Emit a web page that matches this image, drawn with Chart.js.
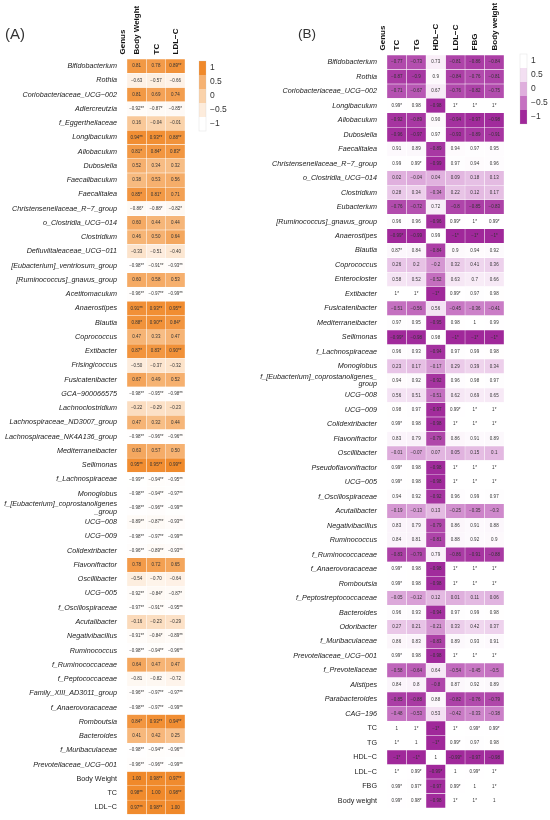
<!DOCTYPE html>
<html><head><meta charset="utf-8">
<script src="https://cdn.jsdelivr.net/npm/chart.js@4.4.0/dist/chart.umd.min.js"></script>
<style>
html,body{margin:0;padding:0;background:#fff;width:550px;height:820px;overflow:hidden;}
#wrapA{position:absolute;left:0;top:0;width:255px;height:820px;}
#wrapB{position:absolute;left:255px;top:0;width:295px;height:820px;}
.plabel{position:absolute;font-family:"Liberation Sans",Arial,sans-serif;color:#333;line-height:1;}
</style></head><body>
<div id="wrapA"><canvas id="cA" width="255" height="820" style="width:255px;height:820px"></canvas></div>
<div id="wrapB"><canvas id="cB" width="295" height="820" style="width:295px;height:820px"></canvas></div>
<div class="plabel" style="left:5px;top:26px;font-size:15px;">(A)</div>
<div class="plabel" style="left:298px;top:27px;font-size:13.5px;">(B)</div>
<script>
const FONT = '"Liberation Sans", Arial, Helvetica, sans-serif';

// ---------- Panel A data ----------
const rowsA = ['Bifidobacterium','Rothia','Coriobacteriaceae_UCG−002','Adlercreutzia','f_Eggerthellaceae','Longibaculum','Allobaculum','Dubosiella','Faecalibaculum','Faecalitalea','Christensenellaceae_R−7_group','o_Clostridia_UCG−014','Clostridium','Defluviitaleaceae_UCG−011','[Eubacterium]_ventriosum_group','[Ruminococcus]_gnavus_group','Acetitomaculum','Anaerostipes','Blautia','Coprococcus','Extibacter','Frisingicoccus','Fusicatenibacter','GCA−900066575','Lachnoclostridium','Lachnospiraceae_ND3007_group','Lachnospiraceae_NK4A136_group','Mediterraneibacter','Sellimonas','f_Lachnospiraceae','Monoglobus',['f_[Eubacterium]_coprostanoligenes','_group'],'UCG−008','UCG−009','Colidextribacter','Flavonifractor','Oscillibacter','UCG−005','f_Oscillospiraceae','Acutalibacter','Negativibacillus','Ruminococcus','f_Ruminococcaceae','f_Peptococcaceae','Family_XIII_AD3011_group','f_Anaerovoracaceae','Romboutsia','Bacteroides','f_Muribaculaceae','Prevotellaceae_UCG−001','Body Weight','TC','LDL−C'];
const colsA = ['Body Weight','TC','LDL−C'];
const clinicalA = ['Body Weight','TC','LDL−C'];
const bodyWeightA = ['0.81','−0.63','0.81','−0.92**','0.16','0.94**','0.81*','0.52','0.38','0.85*','−0.86*','0.60','0.46','−0.33','−0.98**','0.60','−0.96**','0.91**','0.88*','0.47','0.87*','−0.50','0.67','−0.98**','−0.22','0.47','−0.98**','0.63','0.95**','−0.99**','−0.98**','−0.98**','−0.89**','−0.98**','−0.96**','0.78','−0.54','−0.92**','−0.97**','−0.16','−0.91**','−0.98**','0.64','−0.81','−0.96**','−0.98**','0.84*','0.41','−0.98**','−0.96**','1.00','0.98**','0.97**'];
const tcA = ['0.78','−0.57','0.69','−0.87*','−0.04','0.93**','0.84*','0.34','0.53','0.81*','−0.88*','0.44','0.50','−0.51','−0.91**','0.58','−0.97**','0.93**','0.90**','0.33','0.83*','−0.37','0.49','−0.95**','−0.29','0.32','−0.96**','0.57','0.95**','−0.94**','−0.94**','−0.96**','−0.87**','−0.97**','−0.89**','0.72','−0.70','−0.84*','−0.91**','−0.23','−0.84*','−0.94**','0.47','−0.82','−0.97**','−0.97**','0.93**','0.42','−0.94**','−0.96**','0.98**','1.00','0.98**'];
const ldlA = ['0.89**','−0.66','0.74','−0.85*','−0.01','0.88**','0.83*','0.32','0.56','0.71','−0.82*','0.44','0.64','−0.40','−0.93**','0.53','−0.99**','0.95**','0.84*','0.47','0.90**','−0.32','0.52','−0.98**','−0.23','0.44','−0.96**','0.50','0.99**','−0.95**','−0.97**','−0.99**','−0.93**','−0.99**','−0.93**','0.65','−0.64','−0.87*','−0.95**','−0.29','−0.89**','−0.96**','0.47','−0.72','−0.97**','−0.99**','0.94**','0.25','−0.96**','−0.99**','0.97**','0.98**','1.00'];

// ---------- Panel B data ----------
const rowsB = ['Bifidobacterium','Rothia','Coriobacteriaceae_UCG−002','Longibaculum','Allobaculum','Dubosiella','Faecalitalea','Christensenellaceae_R−7_group','o_Clostridia_UCG−014','Clostridium','Eubacterium','[Ruminococcus]_gnavus_group','Anaerostipes','Blautia','Coprococcus','Enterocloster','Extibacter','Fusicatenibacter','Mediterraneibacter','Sellimonas','f_Lachnospiraceae','Monoglobus',['f_[Eubacterium]_coprostanoligenes_','group'],'UCG−008','UCG−009','Colidextribacter','Flavonifractor','Oscillibacter','Pseudoflavonifractor','UCG−005','f_Oscillospiraceae','Acutalibacter','Negativibacillus','Ruminococcus','f_Ruminococcaceae','f_Anaerovoracaceae','Romboutsia','f_Peptostreptococcaceae','Bacteroides','Odoribacter','f_Muribaculaceae','Prevotellaceae_UCG−001','f_Prevotellaceae','Alistipes','Parabacteroides','CAG−196','TC','TG','HDL−C','LDL−C','FBG','Body weight'];
const colsB = ['TC','TG','HDL−C','LDL−C','FBG','Body weight'];
const clinicalB = ['TC','TG','HDL−C','LDL−C','FBG','Body weight'];
const tcB = ['−0.77','−0.87','−0.71','0.99*','−0.92','−0.96','0.91','0.99','0.02','0.28','−0.76','0.96','−0.99*','0.87*','0.26','0.58','1*','−0.51','0.97','−0.99*','0.96','0.23','0.94','0.56','0.98','0.99*','0.83','−0.01','0.99*','0.99*','0.94','−0.19','0.83','0.84','−0.83','0.99*','0.99*','−0.05','0.96','0.27','0.86','0.99*','−0.58','0.84','−0.85','−0.48','1','1*','−1*','1*','0.99*','0.99*'];
const tgB = ['−0.73','−0.9','−0.67','0.98','−0.89','−0.97','0.89','0.99*','−0.04','0.34','−0.72','0.96','−0.99','0.84','0.2','0.52','1*','−0.56','0.95','−0.98','0.93','0.17','0.92','0.51','0.97','0.98','0.79','−0.07','0.98','0.98','0.92','−0.13','0.79','0.81','−0.79','0.98','0.98','−0.12','0.93','0.21','0.83','0.98','−0.64','0.8','−0.88','−0.53','1*','1','−1*','0.99*','0.97*','0.98*'];
const hdlB = ['0.73','0.9','0.67','−0.98','0.90','0.97','−0.89','−0.99','0.04','−0.34','0.72','−0.96','0.99','−0.84','−0.2','−0.52','−1*','0.56','−0.95','0.98','−0.94','−0.17','−0.92','−0.51','−0.97','−0.98','−0.79','0.07','−0.98','−0.98','−0.92','0.13','−0.79','−0.81','0.79','−0.98','−0.98','0.12','−0.94','−0.21','−0.83','−0.98','0.64','−0.8','0.88','0.53','−1*','−1*','1','−0.99*','−0.97','−0.98'];
const ldlB = ['−0.81','−0.84','−0.76','1*','−0.94','−0.93','0.94','0.97','0.09','0.22','−0.8','0.99*','−1*','0.9','0.32','0.63','0.99*','−0.45','0.98','−1*','0.97','0.29','0.96','0.62','0.99*','1*','0.86','0.05','1*','1*','0.96','−0.25','0.86','0.88','−0.86','1*','1*','0.01','0.97','0.33','0.89','1*','−0.54','0.87','−0.82','−0.42','1*','0.99*','−0.99*','1','0.99*','1*'];
const fbgB = ['−0.86','−0.76','−0.82','1*','−0.97','−0.89','0.97','0.94','0.18','0.12','−0.85','1*','−1*','0.94','0.41','0.7','0.97','−0.36','1','−1*','0.99','0.39','0.98','0.69','1*','1*','0.91','0.15','1*','1*','0.99','−0.35','0.91','0.92','−0.91','1*','1*','0.11','0.99','0.42','0.93','1*','−0.45','0.92','−0.76','−0.33','0.99*','0.97','−0.97','0.99*','1','1*'];
const bodyWeightB = ['−0.84','−0.81','−0.75','1*','−0.98','−0.91','0.95','0.96','0.13','0.17','−0.83','0.99*','−1*','0.92','0.36','0.66','0.98','−0.41','0.99','−1*','0.98','0.34','0.97','0.65','1*','1*','0.89','0.1','1*','1*','0.97','−0.3','0.88','0.9','−0.88','1*','1*','0.06','0.98','0.37','0.91','1*','−0.5','0.89','−0.79','−0.38','0.99*','0.98','−0.98','1*','1*','1'];

// colour-bar tick values (top to bottom)
const cbTicks = [1, 0.5, 0, -0.5, -1];

// ---------- styling ----------
const orangeStops = [[-1,[255,255,255]],[-0.5,[253,236,220]],[0,[250,210,170]],[0.5,[246,178,114]],[1,[240,137,42]]];
const purpleStops = [[-1,[160,40,154]],[-0.5,[197,113,193]],[0,[223,174,221]],[0.5,[243,223,242]],[1,[255,255,255]]];

function lerpColor(stops, v){
  v = Math.max(-1, Math.min(1, v));
  for (let i = 0; i < stops.length - 1; i++){
    const [v0,c0] = stops[i], [v1,c1] = stops[i+1];
    if (v >= v0 && v <= v1){
      const t = (v - v0) / (v1 - v0);
      return 'rgb(' + c0.map((c,k)=>Math.round(c + (c1[k]-c)*t)).join(',') + ')';
    }
  }
  return 'rgb(' + stops[stops.length-1][1].join(',') + ')';
}
const num = s => parseFloat(String(s).replace('−','-'));
const fmt = v => String(v).replace('-','−');

function makeHeatmap(canvasId, rows, cols, colData, clinical, stops, geom){
  const datasets = cols.map((c,j)=>({
    label: c,
    data: rows.map(()=>1),
    backgroundColor: colData[j].map(s=>lerpColor(stops, num(s))),
    borderColor: 'rgba(255,255,255,0.55)',
    borderWidth: 0.5,
    borderSkipped: false,
    barPercentage: 1,
    categoryPercentage: 1
  }));
  const plugin = {
    id: 'heatText_' + canvasId,
    afterDatasetsDraw(chart){
      const ctx = chart.ctx;
      const ca = chart.chartArea;
      const xs = chart.scales.x;
      ctx.save();
      ctx.font = '4.5px ' + FONT;
      ctx.fillStyle = '#333';
      ctx.textAlign = 'center';
      ctx.textBaseline = 'middle';
      chart.data.datasets.forEach((ds,j)=>{
        const meta = chart.getDatasetMeta(j);
        meta.data.forEach((el,i)=>{
          const p = el.getProps(['x','base','y'], true);
          ctx.fillText(colData[j][i], (p.x + p.base)/2, p.y);
        });
      });
      // column headers (rotated, reading upward) + "Genus"
      const headers = [{text:'Genus', x: ca.left - 5}].concat(
        cols.map((c,j)=>({text:c, x: xs.getPixelForValue(j + 0.5)})));
      headers.forEach(h=>{
        ctx.save();
        ctx.translate(h.x, ca.top - 4.5);
        ctx.rotate(-Math.PI/2);
        ctx.font = 'bold 8px ' + FONT;
        ctx.fillStyle = '#111';
        ctx.textAlign = 'left';
        ctx.textBaseline = 'middle';
        ctx.fillText(h.text, 0, 0.5);
        ctx.restore();
      });
      // colour bar
      const cb = geom.cb;
      cbTicks.forEach((v,k)=>{
        const y0 = cb.top + k*cb.band;
        ctx.fillStyle = lerpColor(stops, v);
        ctx.fillRect(cb.x, y0, cb.w, cb.band);
        ctx.font = '8.5px ' + FONT;
        ctx.fillStyle = '#333';
        ctx.textAlign = 'left';
        ctx.textBaseline = 'middle';
        ctx.fillText(fmt(v), cb.x + cb.w + 4, y0 + cb.band/2);
      });
      ctx.strokeStyle = 'rgba(200,200,200,0.5)';
      ctx.lineWidth = 0.5;
      ctx.strokeRect(cb.x, cb.top, cb.w, cb.band*cbTicks.length);
      ctx.restore();
    }
  };
  return new Chart(document.getElementById(canvasId), {
    type: 'bar',
    data: { labels: rows, datasets },
    options: {
      indexAxis: 'y',
      responsive: false,
      animation: false,
      events: [],
      layout: { padding: geom.padding },
      plugins: { legend: {display:false}, tooltip: {enabled:false} },
      scales: {
        x: {
          type: 'linear',
          position: 'top',
          stacked: true,
          min: 0, max: cols.length,
          grid: {display:false}, border: {display:false},
          afterFit: s => { s.height = geom.top; },
          ticks: { display: false }
        },
        y: {
          stacked: true,
          grid: {display:false}, border: {display:false},
          afterFit: s => { s.width = geom.yw; },
          ticks: {
            autoSkip: false, padding: 2, color: '#222',
            font: ctx => {
              const lab = rows[ctx.index];
              const isClin = typeof lab === 'string' && clinical.includes(lab);
              return { family: FONT, size: 7.2, style: isClin ? 'normal' : 'italic', lineHeight: 1.0 };
            }
          }
        }
      }
    },
    plugins: [plugin]
  });
}

makeHeatmap('cA', rowsA, colsA, [bodyWeightA, tcA, ldlA], clinicalA, orangeStops,
  { padding: {left:0, right:70, top:0, bottom:5}, yw:127, top:59, cb:{x:199, top:61, w:7, band:14} });

makeHeatmap('cB', rowsB, colsB, [tcB, tgB, hdlB, ldlB, fbgB, bodyWeightB], clinicalB, purpleStops,
  { padding: {left:0, right:46, top:0, bottom:12}, yw:132, top:55, cb:{x:265, top:54, w:7, band:14} });
</script>
</body></html>
